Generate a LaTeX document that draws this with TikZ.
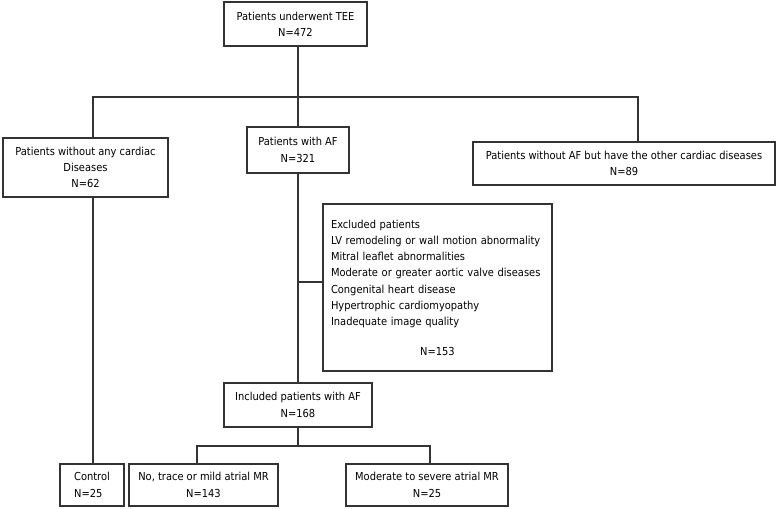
\documentclass[tikz,border=0pt]{standalone}
\usepackage{fontspec}
\setmainfont{DejaVu Sans Condensed}
\usetikzlibrary{positioning}

\tikzset{
  flowbox/.style={draw=black!80, line width=1.1pt, rectangle, inner sep=0pt,
    align=center, font=\fontsize{11}{16.3}\selectfont},
  link/.style={draw=black!80, line width=1.1pt}
}

\begin{document}
\begin{tikzpicture}[x=1pt, y=-1pt]
\useasboundingbox (0,0) rectangle (778,508);

\node[flowbox, minimum width=143pt, minimum height=44pt] (tee) at (295.5,24) {Patients underwent TEE\\N=472};

\node[flowbox, minimum width=165pt, minimum height=59pt] (none) at (85.5,167.5) {Patients without any cardiac\\Diseases\\N=62};
\node[flowbox, minimum width=102pt, minimum height=46pt] (af) at (298,150) {Patients with AF\\N=321};
\node[flowbox, minimum width=302pt, minimum height=43pt] (other) at (624,163.5) {Patients without AF but have the other cardiac diseases\\N=89};

\node[flowbox, minimum width=229pt, minimum height=167pt, text width=213pt, align=left] (excl) at (437.5,287.5) {Excluded patients\\LV remodeling or wall motion abnormality\\Mitral leaflet abnormalities\\Moderate or greater aortic valve diseases\\Congenital heart disease\\Hypertrophic cardiomyopathy\\Inadequate image quality\\[13pt]\makebox[\linewidth]{N=153}};

\node[flowbox, minimum width=148pt, minimum height=44pt] (inc) at (298,405) {Included patients with AF\\N=168};

\node[flowbox, minimum width=64pt, minimum height=42pt, align=left] (ctrl) at (92,485) {Control\\N=25};
\node[flowbox, minimum width=149pt, minimum height=42pt] (mild) at (203.5,485) {No, trace or mild atrial MR\\N=143};
\node[flowbox, minimum width=162pt, minimum height=42pt] (sev) at (427,485) {Moderate to severe atrial MR\\N=25};

% branch points
\coordinate (bl) at (93,97);
\coordinate (br) at (638,97);
\coordinate (ex) at (298,282);
\coordinate (ml) at (197,446);
\coordinate (mr) at (430,446);

\draw[link] (tee.south -| af) -- (af.north);
\draw[link] (none.north -| bl) -- (bl) -- (br) -- (other.north -| br);
\draw[link] (none.south -| bl) -- (ctrl.north -| bl);
\draw[link] (af.south) -- (inc.north);
\draw[link] (ex) -- (ex -| excl.west);
\draw[link] (inc.south) -- (inc.south |- ml);
\draw[link] (mild.north -| ml) -- (ml) -- (mr) -- (sev.north -| mr);

\end{tikzpicture}
\end{document}
